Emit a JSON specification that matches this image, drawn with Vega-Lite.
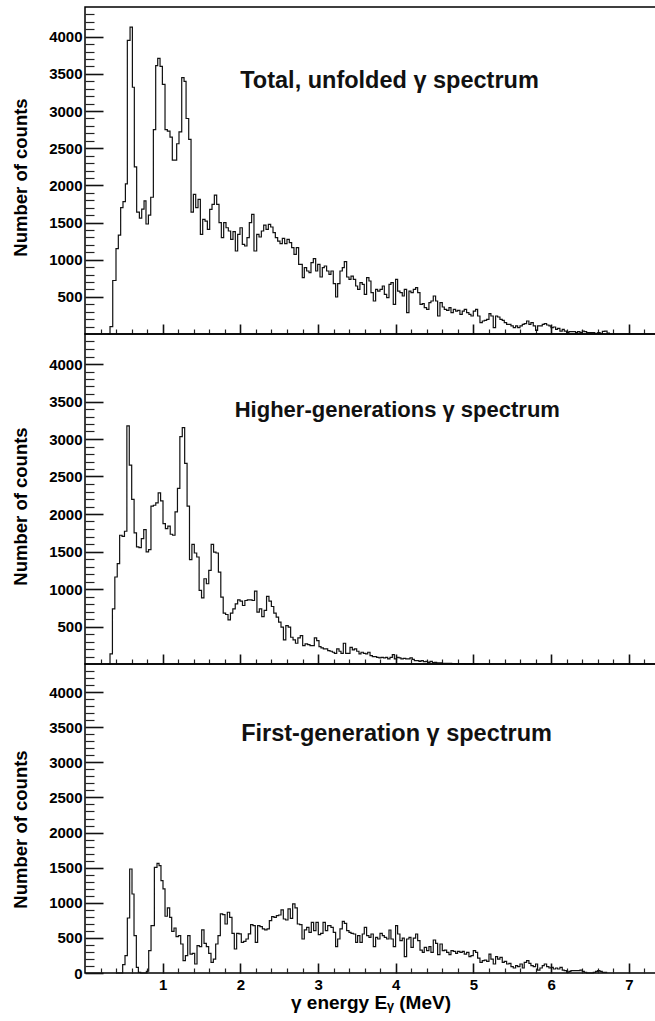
{
  "$schema": "https://vega.github.io/schema/vega-lite/v6.json",
  "autosize": {"type": "pad"},
  "padding": {"left": 10, "top": 6, "right": 0, "bottom": 0},
  "bounds": "flush",
  "spacing": 0,
  "config": {
    "font": "Liberation Sans",
    "view": {"stroke": "#000", "strokeWidth": 1.5},
    "axis": {
      "grid": false,
      "domain": false,
      "labelColor": "#000",
      "titleColor": "#000",
      "labelFont": "Liberation Sans",
      "labelFontWeight": "bold",
      "labelFontSize": 15,
      "titleFont": "Liberation Sans",
      "titleFontWeight": "bold",
      "titleFontSize": 18.5
    }
  },
  "datasets": {
    "total": [
      {"e": 0.29, "n": 0}, {"e": 0.322, "n": 100}, {"e": 0.357, "n": 720}, {"e": 0.399, "n": 1150}, {"e": 0.429, "n": 1330},
      {"e": 0.459, "n": 1700}, {"e": 0.489, "n": 1780}, {"e": 0.52, "n": 2020}, {"e": 0.545, "n": 3950}, {"e": 0.58, "n": 4130},
      {"e": 0.61, "n": 3320}, {"e": 0.635, "n": 2250}, {"e": 0.665, "n": 1640}, {"e": 0.7, "n": 1560}, {"e": 0.73, "n": 1680},
      {"e": 0.76, "n": 1790}, {"e": 0.785, "n": 1480}, {"e": 0.816, "n": 1600}, {"e": 0.846, "n": 1840}, {"e": 0.88, "n": 2750},
      {"e": 0.91, "n": 3610}, {"e": 0.936, "n": 3710}, {"e": 0.966, "n": 3600}, {"e": 0.996, "n": 3360}, {"e": 1.03, "n": 2750},
      {"e": 1.06, "n": 2730}, {"e": 1.094, "n": 2650}, {"e": 1.124, "n": 2340}, {"e": 1.18, "n": 2560}, {"e": 1.21, "n": 2720},
      {"e": 1.245, "n": 3450}, {"e": 1.275, "n": 3400}, {"e": 1.301, "n": 2900}, {"e": 1.335, "n": 2620}, {"e": 1.365, "n": 1640},
      {"e": 1.395, "n": 1879}, {"e": 1.425, "n": 1700}, {"e": 1.455, "n": 1812}, {"e": 1.485, "n": 1341}, {"e": 1.515, "n": 1543},
      {"e": 1.545, "n": 1520}, {"e": 1.575, "n": 1408}, {"e": 1.605, "n": 1677}, {"e": 1.635, "n": 1744}, {"e": 1.665, "n": 1870},
      {"e": 1.695, "n": 1744}, {"e": 1.725, "n": 1498}, {"e": 1.755, "n": 1296}, {"e": 1.785, "n": 1498}, {"e": 1.815, "n": 1430},
      {"e": 1.845, "n": 1386}, {"e": 1.875, "n": 1274}, {"e": 1.905, "n": 1377}, {"e": 1.935, "n": 1117}, {"e": 1.965, "n": 1341},
      {"e": 1.995, "n": 1430}, {"e": 2.025, "n": 1206}, {"e": 2.055, "n": 1184}, {"e": 2.085, "n": 1296}, {"e": 2.115, "n": 1498},
      {"e": 2.145, "n": 1610}, {"e": 2.175, "n": 1117}, {"e": 2.21, "n": 1341}, {"e": 2.24, "n": 1305}, {"e": 2.27, "n": 1386},
      {"e": 2.3, "n": 1466}, {"e": 2.33, "n": 1408}, {"e": 2.36, "n": 1475}, {"e": 2.39, "n": 1440}, {"e": 2.42, "n": 1363},
      {"e": 2.45, "n": 1296}, {"e": 2.48, "n": 1251}, {"e": 2.51, "n": 1215}, {"e": 2.54, "n": 1287}, {"e": 2.57, "n": 1215},
      {"e": 2.6, "n": 1274}, {"e": 2.63, "n": 1229}, {"e": 2.66, "n": 1161}, {"e": 2.69, "n": 1072}, {"e": 2.72, "n": 1161},
      {"e": 2.75, "n": 937}, {"e": 2.797, "n": 758}, {"e": 2.823, "n": 892}, {"e": 2.853, "n": 848}, {"e": 2.883, "n": 825},
      {"e": 2.909, "n": 960}, {"e": 2.939, "n": 1013}, {"e": 2.969, "n": 848}, {"e": 2.995, "n": 937}, {"e": 3.025, "n": 767},
      {"e": 3.055, "n": 892}, {"e": 3.08, "n": 915}, {"e": 3.11, "n": 848}, {"e": 3.14, "n": 803}, {"e": 3.166, "n": 848},
      {"e": 3.196, "n": 677}, {"e": 3.226, "n": 498}, {"e": 3.252, "n": 677}, {"e": 3.282, "n": 848}, {"e": 3.312, "n": 892},
      {"e": 3.338, "n": 973}, {"e": 3.368, "n": 767}, {"e": 3.398, "n": 735}, {"e": 3.424, "n": 780}, {"e": 3.454, "n": 735},
      {"e": 3.484, "n": 646}, {"e": 3.509, "n": 601}, {"e": 3.539, "n": 691}, {"e": 3.569, "n": 668}, {"e": 3.595, "n": 534},
      {"e": 3.625, "n": 758}, {"e": 3.655, "n": 713}, {"e": 3.681, "n": 556}, {"e": 3.711, "n": 444}, {"e": 3.741, "n": 601},
      {"e": 3.767, "n": 578}, {"e": 3.797, "n": 601}, {"e": 3.827, "n": 646}, {"e": 3.853, "n": 534}, {"e": 3.883, "n": 489},
      {"e": 3.913, "n": 668}, {"e": 3.938, "n": 691}, {"e": 3.968, "n": 399}, {"e": 3.998, "n": 735}, {"e": 4.024, "n": 578},
      {"e": 4.054, "n": 556}, {"e": 4.084, "n": 511}, {"e": 4.11, "n": 601}, {"e": 4.14, "n": 287}, {"e": 4.17, "n": 578},
      {"e": 4.196, "n": 556}, {"e": 4.226, "n": 601}, {"e": 4.256, "n": 623}, {"e": 4.282, "n": 556}, {"e": 4.312, "n": 399},
      {"e": 4.342, "n": 408}, {"e": 4.367, "n": 354}, {"e": 4.397, "n": 332}, {"e": 4.427, "n": 422}, {"e": 4.453, "n": 444},
      {"e": 4.483, "n": 511}, {"e": 4.513, "n": 444}, {"e": 4.539, "n": 242}, {"e": 4.569, "n": 422}, {"e": 4.599, "n": 363},
      {"e": 4.625, "n": 332}, {"e": 4.655, "n": 318}, {"e": 4.685, "n": 354}, {"e": 4.711, "n": 287}, {"e": 4.741, "n": 332},
      {"e": 4.771, "n": 309}, {"e": 4.796, "n": 318}, {"e": 4.826, "n": 265}, {"e": 4.856, "n": 309}, {"e": 4.882, "n": 332},
      {"e": 4.912, "n": 287}, {"e": 4.942, "n": 265}, {"e": 4.968, "n": 242}, {"e": 4.998, "n": 309}, {"e": 5.028, "n": 332},
      {"e": 5.054, "n": 242}, {"e": 5.084, "n": 152}, {"e": 5.114, "n": 175}, {"e": 5.14, "n": 184}, {"e": 5.17, "n": 197},
      {"e": 5.2, "n": 274}, {"e": 5.225, "n": 242}, {"e": 5.255, "n": 85}, {"e": 5.285, "n": 242}, {"e": 5.311, "n": 229},
      {"e": 5.341, "n": 197}, {"e": 5.371, "n": 184}, {"e": 5.397, "n": 152}, {"e": 5.427, "n": 130}, {"e": 5.457, "n": 130},
      {"e": 5.483, "n": 108}, {"e": 5.513, "n": 85}, {"e": 5.543, "n": 108}, {"e": 5.569, "n": 85}, {"e": 5.599, "n": 108},
      {"e": 5.629, "n": 130}, {"e": 5.654, "n": 139}, {"e": 5.684, "n": 175}, {"e": 5.714, "n": 130}, {"e": 5.74, "n": 152},
      {"e": 5.77, "n": 108}, {"e": 5.8, "n": 49}, {"e": 5.826, "n": 108}, {"e": 5.856, "n": 108}, {"e": 5.886, "n": 130},
      {"e": 5.912, "n": 139}, {"e": 5.942, "n": 121}, {"e": 5.972, "n": 108}, {"e": 5.998, "n": 85}, {"e": 6.028, "n": 94},
      {"e": 6.058, "n": 63}, {"e": 6.083, "n": 76}, {"e": 6.113, "n": 40}, {"e": 6.143, "n": 63}, {"e": 6.169, "n": 40},
      {"e": 6.199, "n": 18}, {"e": 6.229, "n": 31}, {"e": 6.285, "n": 31}, {"e": 6.315, "n": 18}, {"e": 6.341, "n": 31},
      {"e": 6.371, "n": 18}, {"e": 6.401, "n": 40}, {"e": 6.427, "n": 31}, {"e": 6.457, "n": 18}, {"e": 6.52, "n": 20},
      {"e": 6.56, "n": 10}, {"e": 6.6, "n": 18}, {"e": 6.63, "n": 8}, {"e": 6.66, "n": 35}, {"e": 6.69, "n": 40},
      {"e": 6.72, "n": 12}, {"e": 6.75, "n": 0}
    ],
    "higher": [
      {"e": 0.29, "n": 0}, {"e": 0.322, "n": 134}, {"e": 0.353, "n": 736}, {"e": 0.384, "n": 1160}, {"e": 0.415, "n": 1338},
      {"e": 0.446, "n": 1717}, {"e": 0.477, "n": 1703}, {"e": 0.508, "n": 1770}, {"e": 0.539, "n": 3174}, {"e": 0.57, "n": 2653},
      {"e": 0.601, "n": 2194}, {"e": 0.632, "n": 1748}, {"e": 0.663, "n": 1561}, {"e": 0.694, "n": 1552}, {"e": 0.725, "n": 1672},
      {"e": 0.756, "n": 1793}, {"e": 0.787, "n": 1494}, {"e": 0.818, "n": 1525}, {"e": 0.849, "n": 2104}, {"e": 0.88, "n": 2117},
      {"e": 0.911, "n": 2149}, {"e": 0.942, "n": 2283}, {"e": 0.973, "n": 2176}, {"e": 1.004, "n": 1873}, {"e": 1.035, "n": 1806},
      {"e": 1.066, "n": 1838}, {"e": 1.097, "n": 1730}, {"e": 1.128, "n": 1717}, {"e": 1.159, "n": 2028}, {"e": 1.19, "n": 2341},
      {"e": 1.221, "n": 3032}, {"e": 1.252, "n": 3153}, {"e": 1.283, "n": 2675}, {"e": 1.314, "n": 2104}, {"e": 1.345, "n": 1391},
      {"e": 1.376, "n": 1596}, {"e": 1.407, "n": 1480}, {"e": 1.438, "n": 1427}, {"e": 1.469, "n": 981}, {"e": 1.5, "n": 883},
      {"e": 1.531, "n": 1137}, {"e": 1.562, "n": 1070}, {"e": 1.593, "n": 1248}, {"e": 1.624, "n": 1596}, {"e": 1.655, "n": 1493},
      {"e": 1.686, "n": 1480}, {"e": 1.717, "n": 1226}, {"e": 1.748, "n": 892}, {"e": 1.779, "n": 678}, {"e": 1.81, "n": 660},
      {"e": 1.841, "n": 589}, {"e": 1.872, "n": 678}, {"e": 1.903, "n": 736}, {"e": 1.934, "n": 803}, {"e": 1.965, "n": 856},
      {"e": 1.996, "n": 838}, {"e": 2.027, "n": 780}, {"e": 2.058, "n": 847}, {"e": 2.089, "n": 856}, {"e": 2.12, "n": 856},
      {"e": 2.151, "n": 847}, {"e": 2.182, "n": 972}, {"e": 2.213, "n": 691}, {"e": 2.244, "n": 736}, {"e": 2.275, "n": 633},
      {"e": 2.306, "n": 714}, {"e": 2.337, "n": 901}, {"e": 2.368, "n": 838}, {"e": 2.399, "n": 767}, {"e": 2.43, "n": 678},
      {"e": 2.461, "n": 625}, {"e": 2.492, "n": 558}, {"e": 2.523, "n": 491}, {"e": 2.554, "n": 321}, {"e": 2.585, "n": 513},
      {"e": 2.616, "n": 491}, {"e": 2.647, "n": 357}, {"e": 2.678, "n": 321}, {"e": 2.709, "n": 277}, {"e": 2.74, "n": 348},
      {"e": 2.771, "n": 379}, {"e": 2.802, "n": 245}, {"e": 2.833, "n": 268}, {"e": 2.866, "n": 259}, {"e": 2.896, "n": 245},
      {"e": 2.926, "n": 245}, {"e": 2.952, "n": 348}, {"e": 2.982, "n": 313}, {"e": 3.012, "n": 232}, {"e": 3.038, "n": 214},
      {"e": 3.068, "n": 201}, {"e": 3.098, "n": 201}, {"e": 3.124, "n": 179}, {"e": 3.154, "n": 170}, {"e": 3.184, "n": 157},
      {"e": 3.21, "n": 143}, {"e": 3.24, "n": 201}, {"e": 3.27, "n": 170}, {"e": 3.295, "n": 143}, {"e": 3.325, "n": 277},
      {"e": 3.355, "n": 143}, {"e": 3.381, "n": 143}, {"e": 3.411, "n": 223}, {"e": 3.441, "n": 188}, {"e": 3.467, "n": 201},
      {"e": 3.497, "n": 170}, {"e": 3.527, "n": 134}, {"e": 3.553, "n": 157}, {"e": 3.583, "n": 143}, {"e": 3.613, "n": 134},
      {"e": 3.639, "n": 157}, {"e": 3.669, "n": 112}, {"e": 3.699, "n": 98}, {"e": 3.724, "n": 98}, {"e": 3.754, "n": 89},
      {"e": 3.784, "n": 81}, {"e": 3.81, "n": 89}, {"e": 3.84, "n": 81}, {"e": 3.87, "n": 89}, {"e": 3.896, "n": 68},
      {"e": 3.926, "n": 89}, {"e": 3.956, "n": 126}, {"e": 3.982, "n": 68}, {"e": 4.012, "n": 89}, {"e": 4.042, "n": 81},
      {"e": 4.067, "n": 68}, {"e": 4.097, "n": 76}, {"e": 4.128, "n": 68}, {"e": 4.153, "n": 68}, {"e": 4.183, "n": 81},
      {"e": 4.213, "n": 63}, {"e": 4.239, "n": 45}, {"e": 4.269, "n": 45}, {"e": 4.299, "n": 36}, {"e": 4.325, "n": 45},
      {"e": 4.355, "n": 32}, {"e": 4.385, "n": 36}, {"e": 4.411, "n": 23}, {"e": 4.441, "n": 36}, {"e": 4.471, "n": 19},
      {"e": 4.496, "n": 23}, {"e": 4.526, "n": 14}, {"e": 4.591, "n": 10}, {"e": 4.72, "n": 5}, {"e": 4.891, "n": 2},
      {"e": 5.063, "n": 0}
    ],
    "first": [
      {"e": 0.4, "n": 0}, {"e": 0.485, "n": 118}, {"e": 0.515, "n": 247}, {"e": 0.545, "n": 783}, {"e": 0.575, "n": 1481},
      {"e": 0.605, "n": 1125}, {"e": 0.631, "n": 532}, {"e": 0.661, "n": 80}, {"e": 0.687, "n": 8}, {"e": 0.717, "n": 0},
      {"e": 0.79, "n": 25}, {"e": 0.82, "n": 318}, {"e": 0.85, "n": 674}, {"e": 0.893, "n": 1505}, {"e": 0.927, "n": 1562},
      {"e": 0.953, "n": 1530}, {"e": 0.978, "n": 1315}, {"e": 1.004, "n": 1197}, {"e": 1.03, "n": 808}, {"e": 1.06, "n": 927},
      {"e": 1.09, "n": 793}, {"e": 1.116, "n": 594}, {"e": 1.146, "n": 641}, {"e": 1.172, "n": 518}, {"e": 1.202, "n": 532},
      {"e": 1.232, "n": 413}, {"e": 1.262, "n": 175}, {"e": 1.292, "n": 247}, {"e": 1.322, "n": 532}, {"e": 1.352, "n": 270},
      {"e": 1.382, "n": 280}, {"e": 1.412, "n": 128}, {"e": 1.442, "n": 390}, {"e": 1.472, "n": 375}, {"e": 1.502, "n": 613},
      {"e": 1.532, "n": 422}, {"e": 1.562, "n": 375}, {"e": 1.592, "n": 280}, {"e": 1.622, "n": 151}, {"e": 1.652, "n": 199},
      {"e": 1.682, "n": 413}, {"e": 1.712, "n": 532}, {"e": 1.742, "n": 841}, {"e": 1.772, "n": 831}, {"e": 1.802, "n": 698},
      {"e": 1.832, "n": 865}, {"e": 1.862, "n": 793}, {"e": 1.892, "n": 565}, {"e": 1.922, "n": 342}, {"e": 1.952, "n": 565},
      {"e": 1.982, "n": 556}, {"e": 2.012, "n": 437}, {"e": 2.042, "n": 451}, {"e": 2.072, "n": 484}, {"e": 2.102, "n": 556},
      {"e": 2.132, "n": 688}, {"e": 2.162, "n": 674}, {"e": 2.192, "n": 437}, {"e": 2.222, "n": 674}, {"e": 2.252, "n": 660},
      {"e": 2.283, "n": 627}, {"e": 2.313, "n": 613}, {"e": 2.343, "n": 627}, {"e": 2.373, "n": 746}, {"e": 2.403, "n": 802},
      {"e": 2.433, "n": 793}, {"e": 2.463, "n": 817}, {"e": 2.493, "n": 826}, {"e": 2.523, "n": 898}, {"e": 2.553, "n": 769},
      {"e": 2.583, "n": 755}, {"e": 2.613, "n": 912}, {"e": 2.643, "n": 779}, {"e": 2.673, "n": 983}, {"e": 2.703, "n": 927},
      {"e": 2.733, "n": 698}, {"e": 2.763, "n": 688}, {"e": 2.793, "n": 484}, {"e": 2.823, "n": 613}, {"e": 2.853, "n": 650},
      {"e": 2.883, "n": 579}, {"e": 2.913, "n": 722}, {"e": 2.943, "n": 603}, {"e": 2.973, "n": 722}, {"e": 3.003, "n": 546},
      {"e": 3.033, "n": 565}, {"e": 3.064, "n": 722}, {"e": 3.094, "n": 603}, {"e": 3.124, "n": 674}, {"e": 3.166, "n": 650},
      {"e": 3.196, "n": 579}, {"e": 3.226, "n": 375}, {"e": 3.252, "n": 484}, {"e": 3.282, "n": 627}, {"e": 3.312, "n": 736},
      {"e": 3.338, "n": 707}, {"e": 3.368, "n": 603}, {"e": 3.398, "n": 579}, {"e": 3.424, "n": 565}, {"e": 3.454, "n": 555},
      {"e": 3.484, "n": 437}, {"e": 3.509, "n": 532}, {"e": 3.539, "n": 437}, {"e": 3.569, "n": 555}, {"e": 3.595, "n": 650},
      {"e": 3.625, "n": 532}, {"e": 3.655, "n": 508}, {"e": 3.681, "n": 555}, {"e": 3.711, "n": 375}, {"e": 3.741, "n": 508},
      {"e": 3.767, "n": 484}, {"e": 3.797, "n": 565}, {"e": 3.827, "n": 532}, {"e": 3.853, "n": 508}, {"e": 3.883, "n": 484},
      {"e": 3.913, "n": 612}, {"e": 3.938, "n": 484}, {"e": 3.968, "n": 375}, {"e": 3.998, "n": 674}, {"e": 4.024, "n": 555},
      {"e": 4.054, "n": 460}, {"e": 4.084, "n": 498}, {"e": 4.11, "n": 232}, {"e": 4.14, "n": 484}, {"e": 4.17, "n": 508},
      {"e": 4.196, "n": 366}, {"e": 4.226, "n": 498}, {"e": 4.256, "n": 555}, {"e": 4.282, "n": 460}, {"e": 4.312, "n": 327},
      {"e": 4.342, "n": 294}, {"e": 4.367, "n": 366}, {"e": 4.397, "n": 318}, {"e": 4.427, "n": 375}, {"e": 4.453, "n": 294},
      {"e": 4.483, "n": 470}, {"e": 4.513, "n": 423}, {"e": 4.539, "n": 261}, {"e": 4.569, "n": 413}, {"e": 4.599, "n": 318},
      {"e": 4.625, "n": 327}, {"e": 4.655, "n": 294}, {"e": 4.685, "n": 261}, {"e": 4.711, "n": 318}, {"e": 4.741, "n": 308},
      {"e": 4.771, "n": 280}, {"e": 4.796, "n": 308}, {"e": 4.826, "n": 294}, {"e": 4.856, "n": 308}, {"e": 4.882, "n": 270},
      {"e": 4.912, "n": 294}, {"e": 4.942, "n": 232}, {"e": 4.968, "n": 246}, {"e": 4.998, "n": 318}, {"e": 5.028, "n": 294},
      {"e": 5.054, "n": 213}, {"e": 5.084, "n": 151}, {"e": 5.114, "n": 175}, {"e": 5.14, "n": 184}, {"e": 5.17, "n": 166},
      {"e": 5.2, "n": 270}, {"e": 5.225, "n": 199}, {"e": 5.255, "n": 128}, {"e": 5.285, "n": 232}, {"e": 5.311, "n": 199},
      {"e": 5.341, "n": 222}, {"e": 5.371, "n": 151}, {"e": 5.397, "n": 166}, {"e": 5.427, "n": 128}, {"e": 5.457, "n": 137},
      {"e": 5.483, "n": 90}, {"e": 5.513, "n": 71}, {"e": 5.543, "n": 104}, {"e": 5.569, "n": 90}, {"e": 5.599, "n": 128},
      {"e": 5.629, "n": 71}, {"e": 5.654, "n": 151}, {"e": 5.684, "n": 175}, {"e": 5.714, "n": 137}, {"e": 5.74, "n": 104},
      {"e": 5.77, "n": 90}, {"e": 5.8, "n": 128}, {"e": 5.826, "n": 42}, {"e": 5.856, "n": 71}, {"e": 5.886, "n": 104},
      {"e": 5.912, "n": 128}, {"e": 5.942, "n": 90}, {"e": 5.972, "n": 71}, {"e": 5.998, "n": 80}, {"e": 6.028, "n": 57},
      {"e": 6.058, "n": 71}, {"e": 6.083, "n": 57}, {"e": 6.113, "n": 80}, {"e": 6.143, "n": 42}, {"e": 6.169, "n": 33},
      {"e": 6.199, "n": 9}, {"e": 6.229, "n": 23}, {"e": 6.255, "n": 33}, {"e": 6.371, "n": 42}, {"e": 6.401, "n": 23},
      {"e": 6.427, "n": 9}, {"e": 6.457, "n": 0}, {"e": 6.543, "n": 9}, {"e": 6.572, "n": 23}, {"e": 6.598, "n": 33},
      {"e": 6.628, "n": 23}, {"e": 6.658, "n": 9}, {"e": 6.714, "n": 0}
    ]
  },
  "vconcat": [
    {
      "width": 571,
      "height": 327,
      "resolve": {"axis": {"x": "independent", "y": "independent"}},
      "layer": [
        {
          "data": {"name": "total"},
          "mark": {"type": "line", "interpolate": "step-after", "color": "#111", "strokeWidth": 1.2},
          "encoding": {
            "x": {"field": "e", "type": "quantitative", "scale": {"domain": [0, 7.35], "nice": false, "zero": false},
              "axis": {"orient": "bottom", "values": [1, 2, 3, 4, 5, 6, 7], "ticks": true, "tickColor": "#111", "tickWidth": 1.6, "tickSize": -10, "labels": false, "title": null}},
            "y": {"field": "n", "type": "quantitative", "scale": {"domain": [0, 4400], "nice": false},
              "axis": {"orient": "left", "values": [500, 1000, 1500, 2000, 2500, 3000, 3500, 4000], "format": "d", "ticks": true, "tickColor": "#111", "tickWidth": 1.6, "tickSize": -18, "labelPadding": 21, "title": "Number of counts", "titlePadding": 18, "titleY": 170}}
          }
        },
        {
          "data": {"values": [{"label": "Total, unfolded γ spectrum"}]},
          "mark": {"type": "text", "font": "Liberation Sans", "fontSize": 23.5, "fontWeight": "bold", "align": "center", "baseline": "alphabetic", "color": "#111"},
          "encoding": {
            "x": {"datum": 3.92, "type": "quantitative", "scale": {"domain": [0, 7.35], "nice": false, "zero": false},
              "axis": {"orient": "bottom", "values": [0.2, 0.4, 0.6, 0.8, 1.2, 1.4, 1.6, 1.8, 2.2, 2.4, 2.6, 2.8, 3.2, 3.4, 3.6, 3.8, 4.2, 4.4, 4.6, 4.8, 5.2, 5.4, 5.6, 5.8, 6.2, 6.4, 6.6, 6.8, 7.2], "ticks": true, "tickColor": "#222", "tickWidth": 1.2, "tickSize": -5, "labels": false, "title": null}},
            "y": {"datum": 3311, "type": "quantitative", "scale": {"domain": [0, 4400], "nice": false},
              "axis": {"orient": "left", "values": [100, 200, 300, 400, 600, 700, 800, 900, 1100, 1200, 1300, 1400, 1600, 1700, 1800, 1900, 2100, 2200, 2300, 2400, 2600, 2700, 2800, 2900, 3100, 3200, 3300, 3400, 3600, 3700, 3800, 3900, 4100, 4200, 4300], "ticks": true, "tickColor": "#222", "tickWidth": 1.2, "tickSize": -9, "labels": false, "title": null}},
            "text": {"field": "label"}
          }
        }
      ]
    },
    {
      "width": 571,
      "height": 330,
      "resolve": {"axis": {"x": "independent", "y": "independent"}},
      "layer": [
        {
          "data": {"name": "higher"},
          "mark": {"type": "line", "interpolate": "step-after", "color": "#111", "strokeWidth": 1.2},
          "encoding": {
            "x": {"field": "e", "type": "quantitative", "scale": {"domain": [0, 7.35], "nice": false, "zero": false},
              "axis": {"orient": "bottom", "values": [1, 2, 3, 4, 5, 6, 7], "ticks": true, "tickColor": "#111", "tickWidth": 1.6, "tickSize": -10, "labels": false, "title": null}},
            "y": {"field": "n", "type": "quantitative", "scale": {"domain": [0, 4400], "nice": false},
              "axis": {"orient": "left", "values": [500, 1000, 1500, 2000, 2500, 3000, 3500, 4000], "format": "d", "ticks": true, "tickColor": "#111", "tickWidth": 1.6, "tickSize": -18, "labelPadding": 21, "title": "Number of counts", "titlePadding": 18, "titleY": 172}}
          }
        },
        {
          "data": {"values": [{"label": "Higher-generations γ spectrum"}]},
          "mark": {"type": "text", "font": "Liberation Sans", "fontSize": 22, "fontWeight": "bold", "align": "center", "baseline": "alphabetic", "color": "#111"},
          "encoding": {
            "x": {"datum": 4.02, "type": "quantitative", "scale": {"domain": [0, 7.35], "nice": false, "zero": false},
              "axis": {"orient": "bottom", "values": [0.2, 0.4, 0.6, 0.8, 1.2, 1.4, 1.6, 1.8, 2.2, 2.4, 2.6, 2.8, 3.2, 3.4, 3.6, 3.8, 4.2, 4.4, 4.6, 4.8, 5.2, 5.4, 5.6, 5.8, 6.2, 6.4, 6.6, 6.8, 7.2], "ticks": true, "tickColor": "#222", "tickWidth": 1.2, "tickSize": -5, "labels": false, "title": null}},
            "y": {"datum": 3295, "type": "quantitative", "scale": {"domain": [0, 4400], "nice": false},
              "axis": {"orient": "left", "values": [100, 200, 300, 400, 600, 700, 800, 900, 1100, 1200, 1300, 1400, 1600, 1700, 1800, 1900, 2100, 2200, 2300, 2400, 2600, 2700, 2800, 2900, 3100, 3200, 3300, 3400, 3600, 3700, 3800, 3900, 4100, 4200, 4300], "ticks": true, "tickColor": "#222", "tickWidth": 1.2, "tickSize": -9, "labels": false, "title": null}},
            "text": {"field": "label"}
          }
        }
      ]
    },
    {
      "width": 571,
      "height": 309,
      "resolve": {"axis": {"x": "independent", "y": "independent"}},
      "layer": [
        {
          "data": {"name": "first"},
          "mark": {"type": "line", "interpolate": "step-after", "color": "#111", "strokeWidth": 1.2},
          "encoding": {
            "x": {"field": "e", "type": "quantitative", "scale": {"domain": [0, 7.35], "nice": false, "zero": false},
              "axis": {"orient": "bottom", "values": [1, 2, 3, 4, 5, 6, 7], "ticks": true, "tickColor": "#111", "tickWidth": 1.6, "tickSize": -10, "labelPadding": 14, "title": "γ energy Eᵧ (MeV)", "titleFontSize": 19, "titlePadding": 1}},
            "y": {"field": "n", "type": "quantitative", "scale": {"domain": [0, 4400], "nice": false},
              "axis": {"orient": "left", "values": [0, 500, 1000, 1500, 2000, 2500, 3000, 3500, 4000], "format": "d", "ticks": true, "tickColor": "#111", "tickWidth": 1.6, "tickSize": -18, "labelPadding": 21, "title": "Number of counts", "titlePadding": 18, "titleY": 165}}
          }
        },
        {
          "data": {"values": [{"label": "First-generation γ spectrum"}]},
          "mark": {"type": "text", "font": "Liberation Sans", "fontSize": 23.5, "fontWeight": "bold", "align": "center", "baseline": "alphabetic", "color": "#111"},
          "encoding": {
            "x": {"datum": 4.01, "type": "quantitative", "scale": {"domain": [0, 7.35], "nice": false, "zero": false},
              "axis": {"orient": "bottom", "values": [0.2, 0.4, 0.6, 0.8, 1.2, 1.4, 1.6, 1.8, 2.2, 2.4, 2.6, 2.8, 3.2, 3.4, 3.6, 3.8, 4.2, 4.4, 4.6, 4.8, 5.2, 5.4, 5.6, 5.8, 6.2, 6.4, 6.6, 6.8, 7.2], "ticks": true, "tickColor": "#222", "tickWidth": 1.2, "tickSize": -5, "labels": false, "title": null}},
            "y": {"datum": 3297, "type": "quantitative", "scale": {"domain": [0, 4400], "nice": false},
              "axis": {"orient": "left", "values": [100, 200, 300, 400, 600, 700, 800, 900, 1100, 1200, 1300, 1400, 1600, 1700, 1800, 1900, 2100, 2200, 2300, 2400, 2600, 2700, 2800, 2900, 3100, 3200, 3300, 3400, 3600, 3700, 3800, 3900, 4100, 4200, 4300], "ticks": true, "tickColor": "#222", "tickWidth": 1.2, "tickSize": -9, "labels": false, "title": null}},
            "text": {"field": "label"}
          }
        }
      ]
    }
  ]
}
